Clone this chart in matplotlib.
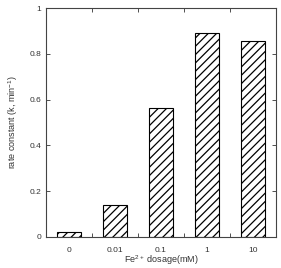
import matplotlib
matplotlib.use("Agg")
import matplotlib.pyplot as plt

# dosage categories and rate constants
dosages = ['0', '0.01', '0.1', '1', '10']
rate_k = [0.02, 0.14, 0.563, 0.893, 0.858]

plt.rcParams['font.family'] = ['Liberation Sans', 'DejaVu Sans']
plt.rcParams['hatch.linewidth'] = 0.9
plt.rcParams['mathtext.fontset'] = 'custom'
plt.rcParams['mathtext.rm'] = 'Liberation Sans'

fig = plt.figure(figsize=(2.81, 2.68), dpi=100)
ax = fig.add_axes([0.164, 0.116, 0.818, 0.854])

x = range(len(dosages))
ax.bar(x, rate_k, width=0.53, color='white', edgecolor='black',
       hatch='////', linewidth=0.8)

ax.set_xlim(-0.5, len(dosages) - 0.5)
ax.set_ylim(0, 1)
ax.set_yticks([0, 0.2, 0.4, 0.6, 0.8, 1])
ax.set_yticklabels(['0', '0.2', '0.4', '0.6', '0.8', '1'])
ax.set_xticks([0.5, 1.5, 2.5, 3.5])
ax.set_xticklabels([])
ax.set_xticks(list(x), minor=True)
ax.set_xticklabels(dosages, minor=True)

ax.tick_params(axis='both', which='major', direction='in', length=3,
               width=0.6, top=True, right=True, labelsize=6,
               colors='#333333')
ax.tick_params(axis='x', which='minor', length=0, labelsize=6,
               pad=7, colors='#333333')
for s in ax.spines.values():
    s.set_linewidth(0.8)
    s.set_color('#444444')

ax.set_xlabel('Fe$^{2+}$ dosage(mM)', fontsize=6.5, color='#333333', labelpad=0)
ax.set_ylabel('rate constant (k, min$^{-1}$)', fontsize=6.5, color='#333333',
              labelpad=7)

fig.savefig('out.png', dpi=100)
